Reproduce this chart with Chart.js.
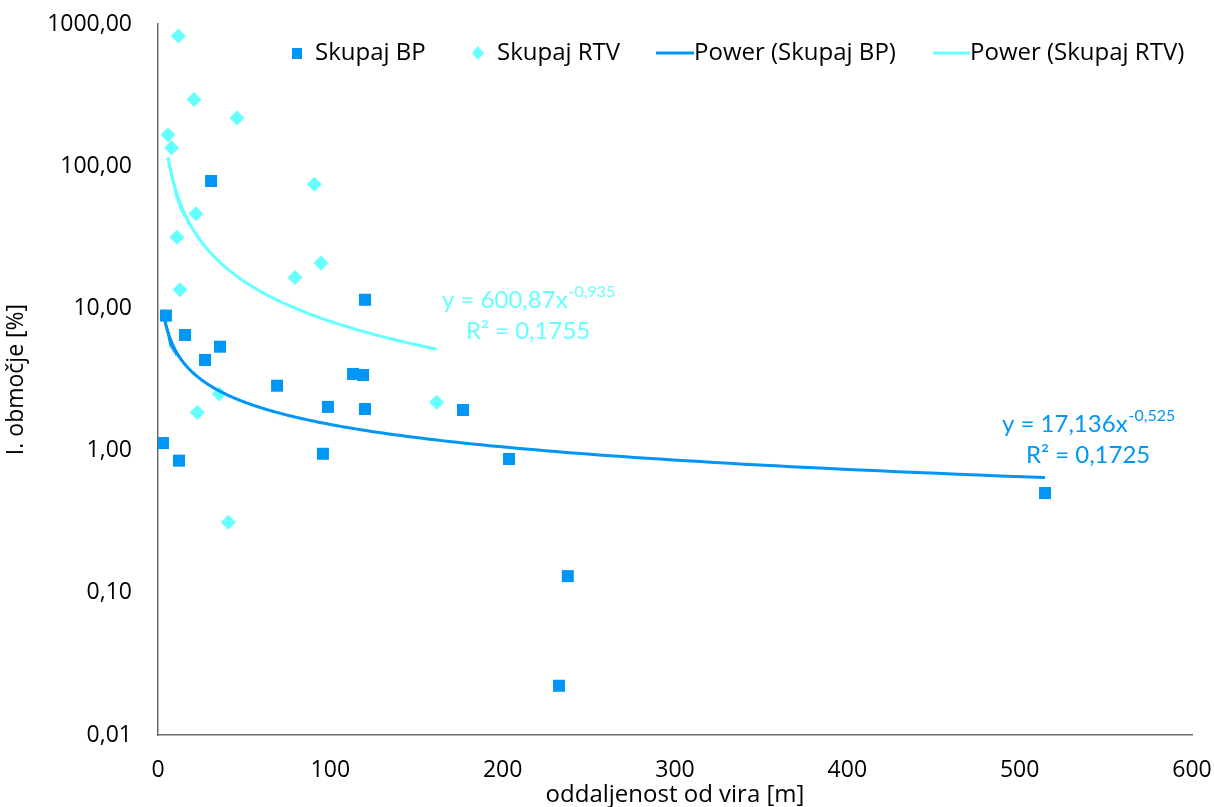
<!DOCTYPE html>
<html>
<head>
    <title>I. območje</title>
    <script src="https://cdn.jsdelivr.net/npm/chart.js@4.4.1/dist/chart.umd.min.js"></script>
    <style type="text/css">
        html, body { margin: 0; padding: 0; background: #fff; }
        #wrap { width: 1214px; height: 807px; }
    </style>
</head>
<body>
    <div id="wrap"><canvas id="Chart" width="1214" height="807"></canvas></div>
    <script>
        // Skupaj BP - oddaljenost [m] / I. območje [%]
        var bpX = [2.9, 4.6, 12.2, 15.7, 27.3, 36.0, 30.8, 69.1, 98.6, 95.7, 113.2, 119.0, 120.1, 120.1, 177.0, 203.7, 514.7, 237.8, 232.7];
        var bpY = [1.13, 8.9, 0.85, 6.5, 4.34, 5.38, 78.7, 2.86, 2.03, 0.95, 3.46, 3.40, 11.5, 1.96, 1.93, 0.873, 0.503, 0.131, 0.0222];

        // Skupaj RTV
        var rtvX = [11.8, 20.9, 45.8, 5.8, 7.9, 90.7, 22.0, 11.0, 94.6, 79.5, 12.8, 161.7, 35.6, 22.8, 40.8];
        var rtvY = [824, 294, 218, 166.6, 135, 74.6, 46.3, 31.6, 20.9, 16.5, 13.5, 2.19, 2.50, 1.85, 0.313];

        // power trendlines y = a * x^b, as shown on the chart
        var bpFit = [17.136, -0.525];
        var rtvFit = [600.87, -0.935];
        var bpFitText = ['y = 17,136x', '-0,525', 'R² = 0,1725'];
        var rtvFitText = ['y = 600,87x', '-0,935', 'R² = 0,1755'];

        var xTickValues = [0, 100, 200, 300, 400, 500, 600];
        var yTickValues = [0.01, 0.1, 1, 10, 100, 1000];
        var yTickLabels = ['0,01', '0,10', '1,00', '10,00', '100,00', '1000,00'];

        var seriesNames = ['Skupaj BP', 'Skupaj RTV', 'Power (Skupaj BP)', 'Power (Skupaj RTV)'];

        var BLUE = '#0096F5';
        var CYAN = '#66FFFF';
        var FONT = "'Open Sans', sans-serif";
        var EQ_FONT = "Lato, sans-serif";

        function points(xs, ys) {
            return xs.map(function(x, i) { return { x: x, y: ys[i] }; });
        }

        // trendline curve over the x range of its series
        function fitCurve(xs, fit) {
            var lo = Math.min.apply(null, xs), hi = Math.max.apply(null, xs);
            var out = [];
            var n = 200;
            for (var i = 0; i <= n; i++) {
                var x = lo * Math.pow(hi / lo, i / n);
                out.push({ x: x, y: fit[0] * Math.pow(x, fit[1]) });
            }
            return out;
        }

        var legendPlugin = {
            id: 'insideLegend',
            afterDraw: function(chart) {
                var ctx = chart.ctx;
                var y = 53;
                ctx.save();
                ctx.font = '24px ' + FONT;
                ctx.fillStyle = '#000';
                ctx.textBaseline = 'middle';
                ctx.textAlign = 'left';

                // square
                ctx.fillStyle = BLUE;
                ctx.fillRect(292, y - 5, 10, 11);
                ctx.fillStyle = '#000';
                ctx.fillText(seriesNames[0], 315, y);

                // diamond
                ctx.fillStyle = CYAN;
                ctx.beginPath();
                ctx.moveTo(478, y - 7);
                ctx.lineTo(484, y);
                ctx.lineTo(478, y + 7);
                ctx.lineTo(472, y);
                ctx.closePath();
                ctx.fill();
                ctx.fillStyle = '#000';
                ctx.fillText(seriesNames[1], 497, y);

                // lines
                ctx.lineWidth = 3;
                ctx.strokeStyle = BLUE;
                ctx.beginPath(); ctx.moveTo(656, y); ctx.lineTo(694, y); ctx.stroke();
                ctx.fillText(seriesNames[2], 694, y);
                ctx.strokeStyle = CYAN;
                ctx.beginPath(); ctx.moveTo(933, y); ctx.lineTo(970, y); ctx.stroke();
                ctx.fillText(seriesNames[3], 970, y);
                ctx.restore();
            }
        };

        function drawEq(ctx, txt, x, y, color) {
            ctx.fillStyle = color;
            ctx.textBaseline = 'middle';
            ctx.textAlign = 'left';
            ctx.font = '24px ' + EQ_FONT;
            ctx.fillText(txt[0], x, y);
            var w = ctx.measureText(txt[0]).width;
            ctx.font = '16px ' + EQ_FONT;
            ctx.fillText(txt[1], x + w + 1, y - 8);
            var w2 = ctx.measureText(txt[1]).width;
            ctx.font = '24px ' + EQ_FONT;
            ctx.textAlign = 'center';
            ctx.fillText(txt[2], x + (w + w2) / 2, y + 31);
        }

        var eqPlugin = {
            id: 'fitLabels',
            afterDraw: function(chart) {
                var ctx = chart.ctx;
                ctx.save();
                drawEq(ctx, rtvFitText, 442, 300, CYAN);
                drawEq(ctx, bpFitText, 1002, 424, BLUE);
                ctx.restore();
            }
        };

        var ctx = document.getElementById('Chart').getContext('2d');
        var chart = new Chart(ctx, {
            type: 'scatter',
            data: {
                datasets: [{
                    label: seriesNames[2],
                    data: fitCurve(bpX, bpFit),
                    showLine: true,
                    borderColor: BLUE,
                    borderWidth: 3,
                    pointRadius: 0,
                    order: 0
                }, {
                    label: seriesNames[3],
                    data: fitCurve(rtvX, rtvFit),
                    showLine: true,
                    borderColor: CYAN,
                    borderWidth: 3,
                    pointRadius: 0,
                    order: 0
                }, {
                    label: seriesNames[0],
                    data: points(bpX, bpY),
                    pointStyle: 'rect',
                    pointRadius: 8.5,
                    pointBorderWidth: 0,
                    backgroundColor: BLUE,
                    borderColor: BLUE,
                    order: 1
                }, {
                    label: seriesNames[1],
                    data: points(rtvX, rtvY),
                    pointStyle: 'rectRot',
                    pointRadius: 7.5,
                    pointBorderWidth: 0,
                    backgroundColor: CYAN,
                    borderColor: CYAN,
                    order: 1
                }]
            },
            options: {
                responsive: false,
                animation: false,
                devicePixelRatio: 1,
                layout: { padding: { top: 24, right: 22, left: 0, bottom: 0 } },
                plugins: {
                    legend: { display: false },
                    tooltip: { enabled: false }
                },
                scales: {
                    x: {
                        type: 'linear',
                        min: 0,
                        max: 600,
                        afterFit: function(s) {
                            s.height = 72;
                            s.paddingLeft = 0;
                            s.paddingRight = 0;
                        },
                        afterBuildTicks: function(s) {
                            s.ticks = xTickValues.map(function(v) { return { value: v }; });
                        },
                        grid: { display: false, drawTicks: false },
                        border: { display: true, color: '#6a6a6a', width: 1.5 },
                        ticks: {
                            padding: 22,
                            color: '#000',
                            font: { family: FONT, size: 23 },
                            maxRotation: 0
                        },
                        title: {
                            display: true,
                            text: 'oddaljenost od vira [m]',
                            color: '#000',
                            font: { family: FONT, size: 24, lineHeight: 1 },
                            padding: { top: 0, bottom: 0 }
                        }
                    },
                    y: {
                        type: 'logarithmic',
                        min: 0.01,
                        max: 1000,
                        afterFit: function(s) {
                            s.width = 158;
                            s.paddingTop = 0;
                            s.paddingBottom = 0;
                        },
                        afterBuildTicks: function(s) {
                            s.ticks = yTickValues.map(function(v) { return { value: v }; });
                        },
                        grid: { display: false, drawTicks: false },
                        border: { display: true, color: '#6a6a6a', width: 1.5 },
                        ticks: {
                            padding: 26,
                            color: '#000',
                            font: { family: FONT, size: 23 },
                            callback: function(v, i) { return yTickLabels[i]; }
                        },
                        title: {
                            display: true,
                            text: 'I. območje [%]',
                            color: '#000',
                            font: { family: FONT, size: 23, lineHeight: 1.2 },
                            padding: { top: 3, bottom: 0 }
                        }
                    }
                }
            },
            plugins: [legendPlugin, eqPlugin]
        });
    </script>
</body>
</html>
